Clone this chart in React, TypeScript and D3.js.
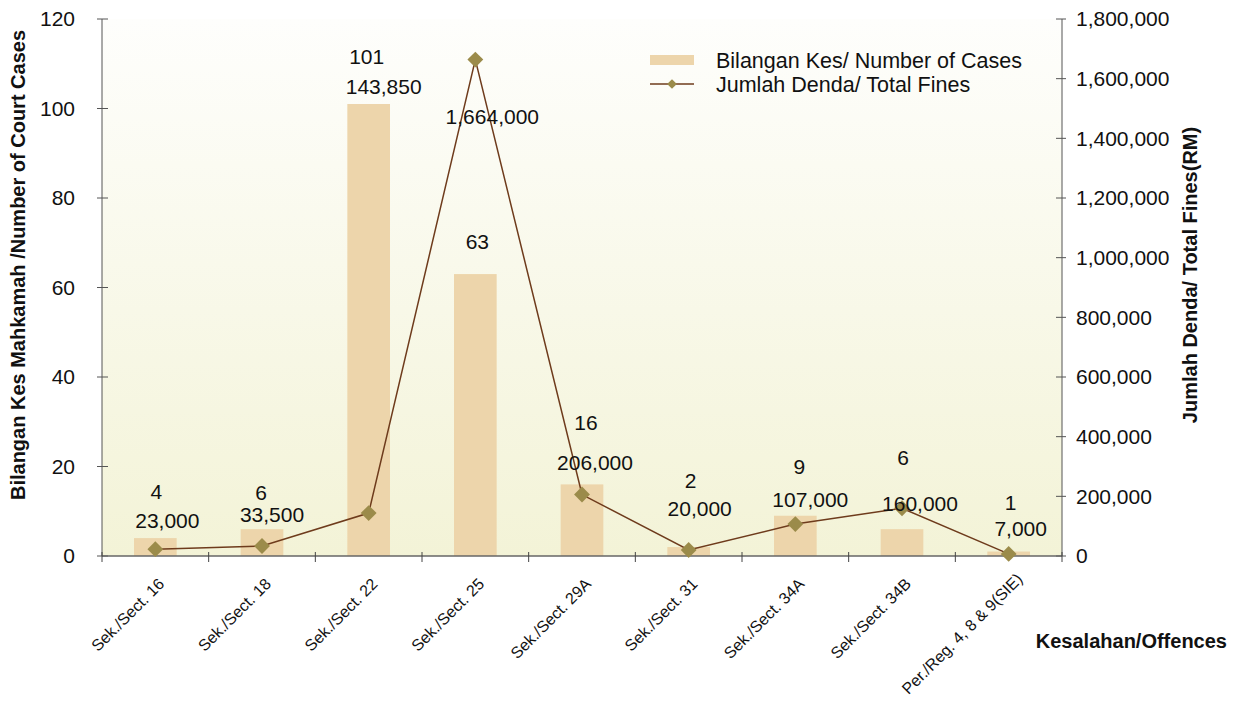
import React, { useEffect, useRef } from "react";
import * as d3 from "d3";

const offences = [
  "Sek./Sect. 16",
  "Sek./Sect. 18",
  "Sek./Sect. 22",
  "Sek./Sect. 25",
  "Sek./Sect. 29A",
  "Sek./Sect. 31",
  "Sek./Sect. 34A",
  "Sek./Sect. 34B",
  "Per./Reg. 4, 8 & 9(SIE)",
];
const cases = [4, 6, 101, 63, 16, 2, 9, 6, 1];
const fines = [23000, 33500, 143850, 1664000, 206000, 20000, 107000, 160000, 7000];
const caseTicks = [0, 20, 40, 60, 80, 100, 120];
const fineTicks = [0, 200000, 400000, 600000, 800000, 1000000, 1200000, 1400000, 1600000, 1800000];

// hand-placed label nudges (px), as in the original chart
const caseLabelDx = [1, -1, -2, 2, 4, 2, 4, 1, 2];
const caseLabelDy = [-46, -37, -47, -32, -62, -66, -49, -72, -49];
const fineLabelDx = [12, 10, 15, 17, 13, 11, 15, 18, 12];
const fineLabelDy = [-28, -31, -426, 57, -32, -41, -24, -5, -25];

const W = 1238;
const H = 702;
const margin = { top: 19, right: 176, bottom: 146, left: 102 };
const FONT = "'Liberation Sans', Arial, Helvetica, sans-serif";

const App = () => {
  const svgRef = useRef(null);

  useEffect(() => {
    const svg = d3.select(svgRef.current);
    svg.selectAll("*").remove();

    const innerW = W - margin.left - margin.right;
    const innerH = H - margin.top - margin.bottom;

    const x = d3.scaleBand().domain(offences).range([0, innerW]).paddingInner(0).paddingOuter(0);
    const yL = d3.scaleLinear().domain([0, 120]).range([innerH, 0]);
    const yR = d3.scaleLinear().domain([0, 1800000]).range([innerH, 0]);
    const fmt = d3.format(",");

    const defs = svg.append("defs");
    const grad = defs
      .append("linearGradient")
      .attr("id", "bg")
      .attr("x1", 0)
      .attr("y1", 0)
      .attr("x2", 0)
      .attr("y2", 1);
    grad.append("stop").attr("offset", "0%").attr("stop-color", "#fefefc");
    grad.append("stop").attr("offset", "100%").attr("stop-color", "#f3f3d7");

    const g = svg.append("g").attr("transform", `translate(${margin.left},${margin.top})`);

    g.append("rect").attr("width", innerW).attr("height", innerH).attr("fill", "url(#bg)");

    // bars
    const bw = x.bandwidth() * 0.4;
    g.selectAll("rect.bar")
      .data(cases)
      .join("rect")
      .attr("class", "bar")
      .attr("x", (d, i) => x(offences[i]) + x.bandwidth() / 2 - bw / 2)
      .attr("y", (d) => yL(d))
      .attr("width", bw)
      .attr("height", (d) => innerH - yL(d))
      .attr("fill", "#edd5ab");

    // left axis
    const left = g.append("g");
    left.append("line").attr("x1", 0).attr("x2", 0).attr("y1", 0).attr("y2", innerH).attr("stroke", "#555");
    caseTicks.forEach((t) => {
      left.append("line").attr("x1", -5).attr("x2", 6).attr("y1", yL(t)).attr("y2", yL(t)).attr("stroke", "#555");
      left
        .append("text")
        .attr("x", -27)
        .attr("y", yL(t))
        .attr("dy", "0.35em")
        .attr("text-anchor", "end")
        .attr("font-size", 21)
        .attr("fill", "#111")
        .text(t);
    });

    // right axis
    const right = g.append("g").attr("transform", `translate(${innerW},0)`);
    right.append("line").attr("x1", 0).attr("x2", 0).attr("y1", 0).attr("y2", innerH).attr("stroke", "#555");
    fineTicks.forEach((t) => {
      right.append("line").attr("x1", -6).attr("x2", 4).attr("y1", yR(t)).attr("y2", yR(t)).attr("stroke", "#555");
      right
        .append("text")
        .attr("x", 14)
        .attr("y", yR(t))
        .attr("dy", "0.35em")
        .attr("text-anchor", "start")
        .attr("font-size", 21)
        .attr("fill", "#111")
        .text(fmt(t));
    });

    // bottom axis
    const bottom = g.append("g").attr("transform", `translate(0,${innerH})`);
    bottom.append("line").attr("x1", 0).attr("x2", innerW).attr("stroke", "#666").attr("stroke-width", 1.5);
    [...offences.map((o) => x(o)), innerW].forEach((px) => {
      bottom.append("line").attr("x1", px).attr("x2", px).attr("y1", -4).attr("y2", 6).attr("stroke", "#444");
    });
    const k = Math.SQRT1_2;
    const maxY = H - 4 - margin.top - innerH; // lowest point a label may reach (local coords)
    offences.forEach((o) => {
      let ax = x(o) + x.bandwidth() / 2 + 10;
      let ay = 29;
      const t = bottom
        .append("text")
        .attr("text-anchor", "end")
        .attr("font-size", 16)
        .attr("fill", "#111")
        .text(o);
      const len = t.node().getComputedTextLength();
      // like the spreadsheet, slide long labels up along their baseline so they stay inside the chart
      const low = ay + (len + 4) * k;
      if (low > maxY) {
        const s = (low - maxY) / k;
        ax += s * k;
        ay -= s * k;
      }
      t.attr("transform", `translate(${ax},${ay}) rotate(-45)`);
    });

    // line
    const line = d3
      .line()
      .x((d, i) => x(offences[i]) + x.bandwidth() / 2)
      .y((d) => yR(d));
    g.append("path").datum(fines).attr("d", line).attr("fill", "none").attr("stroke", "#6e3b1c").attr("stroke-width", 1.5);

    const diamond = d3.symbol().type(d3.symbolDiamond2).size(160);
    g.selectAll("path.mk")
      .data(fines)
      .join("path")
      .attr("class", "mk")
      .attr("d", diamond)
      .attr("transform", (d, i) => `translate(${x(offences[i]) + x.bandwidth() / 2},${yR(d)})`)
      .attr("fill", "#9b8b4a");

    // data labels
    g.selectAll("text.cl")
      .data(cases)
      .join("text")
      .attr("class", "cl")
      .attr("x", (d, i) => x(offences[i]) + x.bandwidth() / 2 + caseLabelDx[i])
      .attr("y", (d, i) => yL(d) + caseLabelDy[i])
      .attr("dy", "0.35em")
      .attr("text-anchor", "middle")
      .attr("font-size", 21)
      .attr("fill", "#111")
      .text((d) => d);

    g.selectAll("text.fl")
      .data(fines)
      .join("text")
      .attr("class", "fl")
      .attr("x", (d, i) => x(offences[i]) + x.bandwidth() / 2 + fineLabelDx[i])
      .attr("y", (d, i) => yR(d) + fineLabelDy[i])
      .attr("dy", "0.35em")
      .attr("text-anchor", "middle")
      .attr("font-size", 21)
      .attr("fill", "#111")
      .text((d) => fmt(d));

    // legend
    const lg = g.append("g").attr("transform", `translate(${548},${41})`);
    lg.append("rect").attr("x", 0).attr("y", -5).attr("width", 44).attr("height", 10).attr("fill", "#edd5ab");
    lg.append("text").attr("x", 66).attr("y", 0).attr("dy", "0.35em").attr("font-size", 21.5).attr("fill", "#111").text("Bilangan Kes/ Number of Cases");
    lg.append("line").attr("x1", 0).attr("x2", 44).attr("y1", 24).attr("y2", 24).attr("stroke", "#6e3b1c").attr("stroke-width", 1.5);
    lg.append("path").attr("d", d3.symbol().type(d3.symbolDiamond2).size(60)).attr("transform", "translate(22,24)").attr("fill", "#9b8b4a");
    lg.append("text").attr("x", 66).attr("y", 24).attr("dy", "0.35em").attr("font-size", 21.5).attr("fill", "#111").text("Jumlah Denda/ Total Fines");

    // axis titles
    svg
      .append("text")
      .attr("transform", `translate(25,265) rotate(-90)`)
      .attr("text-anchor", "middle")
      .attr("font-size", 20)
      .attr("font-weight", "bold")
      .attr("fill", "#111")
      .text("Bilangan Kes Mahkamah /Number of Court Cases");
    svg
      .append("text")
      .attr("transform", `translate(1197,275) rotate(-90)`)
      .attr("text-anchor", "middle")
      .attr("font-size", 20)
      .attr("font-weight", "bold")
      .attr("fill", "#111")
      .text("Jumlah Denda/ Total Fines(RM)");
    svg
      .append("text")
      .attr("x", 1227)
      .attr("y", 641)
      .attr("dy", "0.35em")
      .attr("text-anchor", "end")
      .attr("font-size", 20)
      .attr("font-weight", "bold")
      .attr("fill", "#111")
      .text("Kesalahan/Offences");
  }, []);

  return (
    <svg
      ref={svgRef}
      width={W}
      height={H}
      style={{ position: "absolute", left: 0, top: 0, background: "#fff", fontFamily: FONT }}
    ></svg>
  );
};

export default App;
